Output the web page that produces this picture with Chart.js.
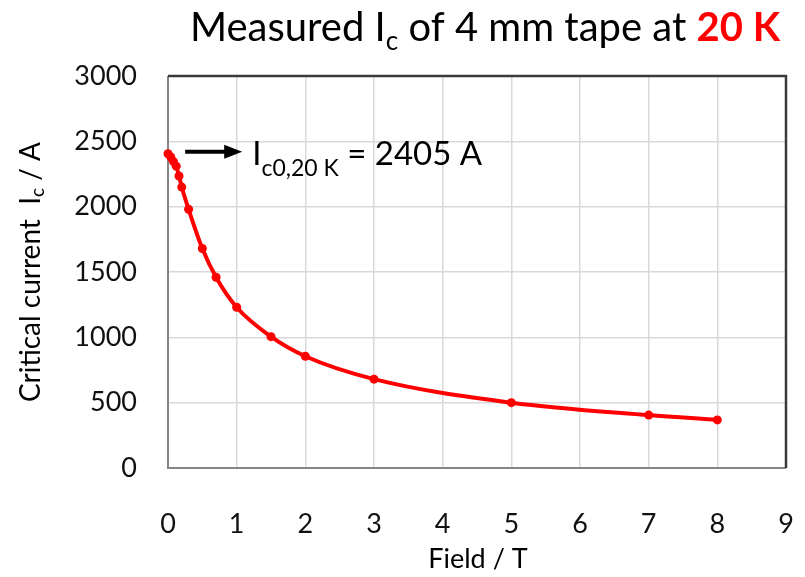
<!DOCTYPE html>
<html>
<head>
<meta charset="utf-8">
<script src="https://cdn.jsdelivr.net/npm/chart.js@4"></script>
<style>
    body { margin: 0; background: #fff; }
    #icChart { display: block; }
</style>
</head>
<body>
<canvas id="icChart" width="805" height="577"></canvas>
<script>
// Field values (T) and measured critical current (A)
const fieldValues = [0, 0.04, 0.08, 0.12, 0.16, 0.2, 0.3, 0.5, 0.7, 1, 1.5, 2, 3, 5, 7, 8];
const currentValues = [2405, 2380, 2345, 2310, 2235, 2150, 1980, 1680, 1460, 1230, 1005, 855, 680, 500, 405, 368];
const xTicks = [0, 1, 2, 3, 4, 5, 6, 7, 8, 9];
const yTicks = [0, 500, 1000, 1500, 2000, 2500, 3000];
const ic0Value = 2405;

const FONT = 'Lato, "Open Sans", sans-serif';

/**
 * Draw a run of text pieces, each with its own font, colour and baseline shift
 */
function drawPieces(ctx, pieces, x, y) {
    let cx = x;
    pieces.forEach(p => {
        ctx.font = p.font;
        ctx.fillStyle = p.color || '#000';
        ctx.fillText(p.text, cx, y + (p.dy || 0));
        cx += ctx.measureText(p.text).width;
    });
    return cx;
}

function piecesWidth(ctx, pieces) {
    let w = 0;
    pieces.forEach(p => {
        ctx.font = p.font;
        w += ctx.measureText(p.text).width;
    });
    return w;
}

// Frame goes under the data line
const framePlugin = {
    id: 'frame',
    beforeDatasetsDraw(chart) {
        const ctx = chart.ctx;
        const area = chart.chartArea;
        ctx.save();
        ctx.lineWidth = 2;
        ctx.strokeStyle = '#858585';
        ctx.beginPath();
        ctx.moveTo(area.left, area.top);
        ctx.lineTo(area.left, area.bottom);
        ctx.lineTo(area.right, area.bottom);
        ctx.stroke();
        ctx.lineWidth = 2.5;
        ctx.strokeStyle = '#3a3a3a';
        ctx.beginPath();
        ctx.moveTo(area.left, area.top);
        ctx.lineTo(area.right, area.top);
        ctx.lineTo(area.right, area.bottom);
        ctx.stroke();
        ctx.restore();
    }
};

// Title, axis titles and the annotation
const decorPlugin = {
    id: 'decor',
    afterDatasetsDraw(chart) {
        const ctx = chart.ctx;
        const area = chart.chartArea;
        const xs = chart.scales.x;
        const ys = chart.scales.y;

        ctx.save();
        ctx.textAlign = 'left';
        ctx.textBaseline = 'alphabetic';

        // Title
        const titlePieces = [
            { text: 'Measured I', font: '40px ' + FONT },
            { text: 'c', font: '26px ' + FONT, dy: 9 },
            { text: ' of 4 mm tape at ', font: '40px ' + FONT },
            { text: '20 K', font: 'bold 40px ' + FONT, color: '#ff0000' }
        ];
        const tw = piecesWidth(ctx, titlePieces);
        drawPieces(ctx, titlePieces, 485 - tw / 2, 41);

        // Arrow pointing at Ic0
        const ay = ys.getPixelForValue(ic0Value) - 2;
        const ax0 = xs.getPixelForValue(0.25);
        const ax1 = xs.getPixelForValue(1.08);
        ctx.strokeStyle = '#000';
        ctx.fillStyle = '#000';
        ctx.lineWidth = 4;
        ctx.beginPath();
        ctx.moveTo(ax0, ay);
        ctx.lineTo(ax1 - 14, ay);
        ctx.stroke();
        ctx.beginPath();
        ctx.moveTo(ax1, ay);
        ctx.lineTo(ax1 - 18, ay - 7);
        ctx.lineTo(ax1 - 18, ay + 7);
        ctx.closePath();
        ctx.fill();

        drawPieces(ctx, [
            { text: 'I', font: '33px ' + FONT },
            { text: 'c0,20 K', font: '23px ' + FONT, dy: 11 },
            { text: ' = ' + ic0Value + ' A', font: '33px ' + FONT }
        ], ax1 + 10, ay + 13);

        // X axis title
        ctx.textAlign = 'center';
        ctx.textBaseline = 'middle';
        ctx.font = '27px ' + FONT;
        ctx.fillStyle = '#000';
        ctx.fillText('Field / T', (area.left + area.right) / 2 + 1, 559);

        // Y axis title (rotated)
        ctx.translate(31, (area.top + area.bottom) / 2);
        ctx.rotate(-Math.PI / 2);
        ctx.textAlign = 'left';
        const yPieces = [
            { text: 'Critical current  I', font: '28px ' + FONT },
            { text: 'c', font: '19px ' + FONT, dy: 7 },
            { text: ' / A', font: '28px ' + FONT }
        ];
        const yw = piecesWidth(ctx, yPieces);
        drawPieces(ctx, yPieces, -yw / 2, 0);

        ctx.restore();
    }
};

const ctx = document.getElementById('icChart').getContext('2d');

const icChart = new Chart(ctx, {
    type: 'scatter',
    data: {
        datasets: [{
            label: 'Ic',
            data: fieldValues.map((x, i) => ({ x: x, y: currentValues[i] })),
            showLine: true,
            clip: false,
            borderColor: '#ff0000',
            backgroundColor: '#ff0000',
            borderWidth: 4,
            pointRadius: 4.5,
            pointBorderWidth: 0,
            cubicInterpolationMode: 'monotone'
        }]
    },
    options: {
        responsive: false,
        animation: false,
        layout: {
            padding: { left: 0, top: 76, right: 19, bottom: 0 }
        },
        plugins: {
            legend: { display: false },
            tooltip: { enabled: false },
            title: { display: false }
        },
        scales: {
            x: {
                type: 'linear',
                min: 0,
                max: 9,
                afterBuildTicks: function(scale) {
                    scale.ticks = xTicks.map(v => ({ value: v }));
                },
                afterFit: function(scale) {
                    scale.height = 109;
                    scale.paddingLeft = 0;
                    scale.paddingRight = 0;
                },
                ticks: {
                    padding: 40,
                    color: '#111',
                    font: { family: FONT, size: 27 },
                    callback: function(value) {
                        return String(value);
                    }
                },
                grid: {
                    color: '#d9d9d9',
                    lineWidth: 1.5,
                    drawTicks: false
                },
                border: { display: false }
            },
            y: {
                type: 'linear',
                min: 0,
                max: 3000,
                afterBuildTicks: function(scale) {
                    scale.ticks = yTicks.map(v => ({ value: v }));
                },
                afterFit: function(scale) {
                    scale.width = 168;
                    scale.paddingTop = 0;
                    scale.paddingBottom = 0;
                },
                ticks: {
                    padding: 31,
                    color: '#111',
                    font: { family: FONT, size: 27 },
                    callback: function(value) {
                        return String(value);
                    }
                },
                grid: {
                    color: '#d9d9d9',
                    lineWidth: 1.5,
                    drawTicks: false
                },
                border: { display: false }
            }
        }
    },
    plugins: [framePlugin, decorPlugin]
});
</script>
</body>
</html>
